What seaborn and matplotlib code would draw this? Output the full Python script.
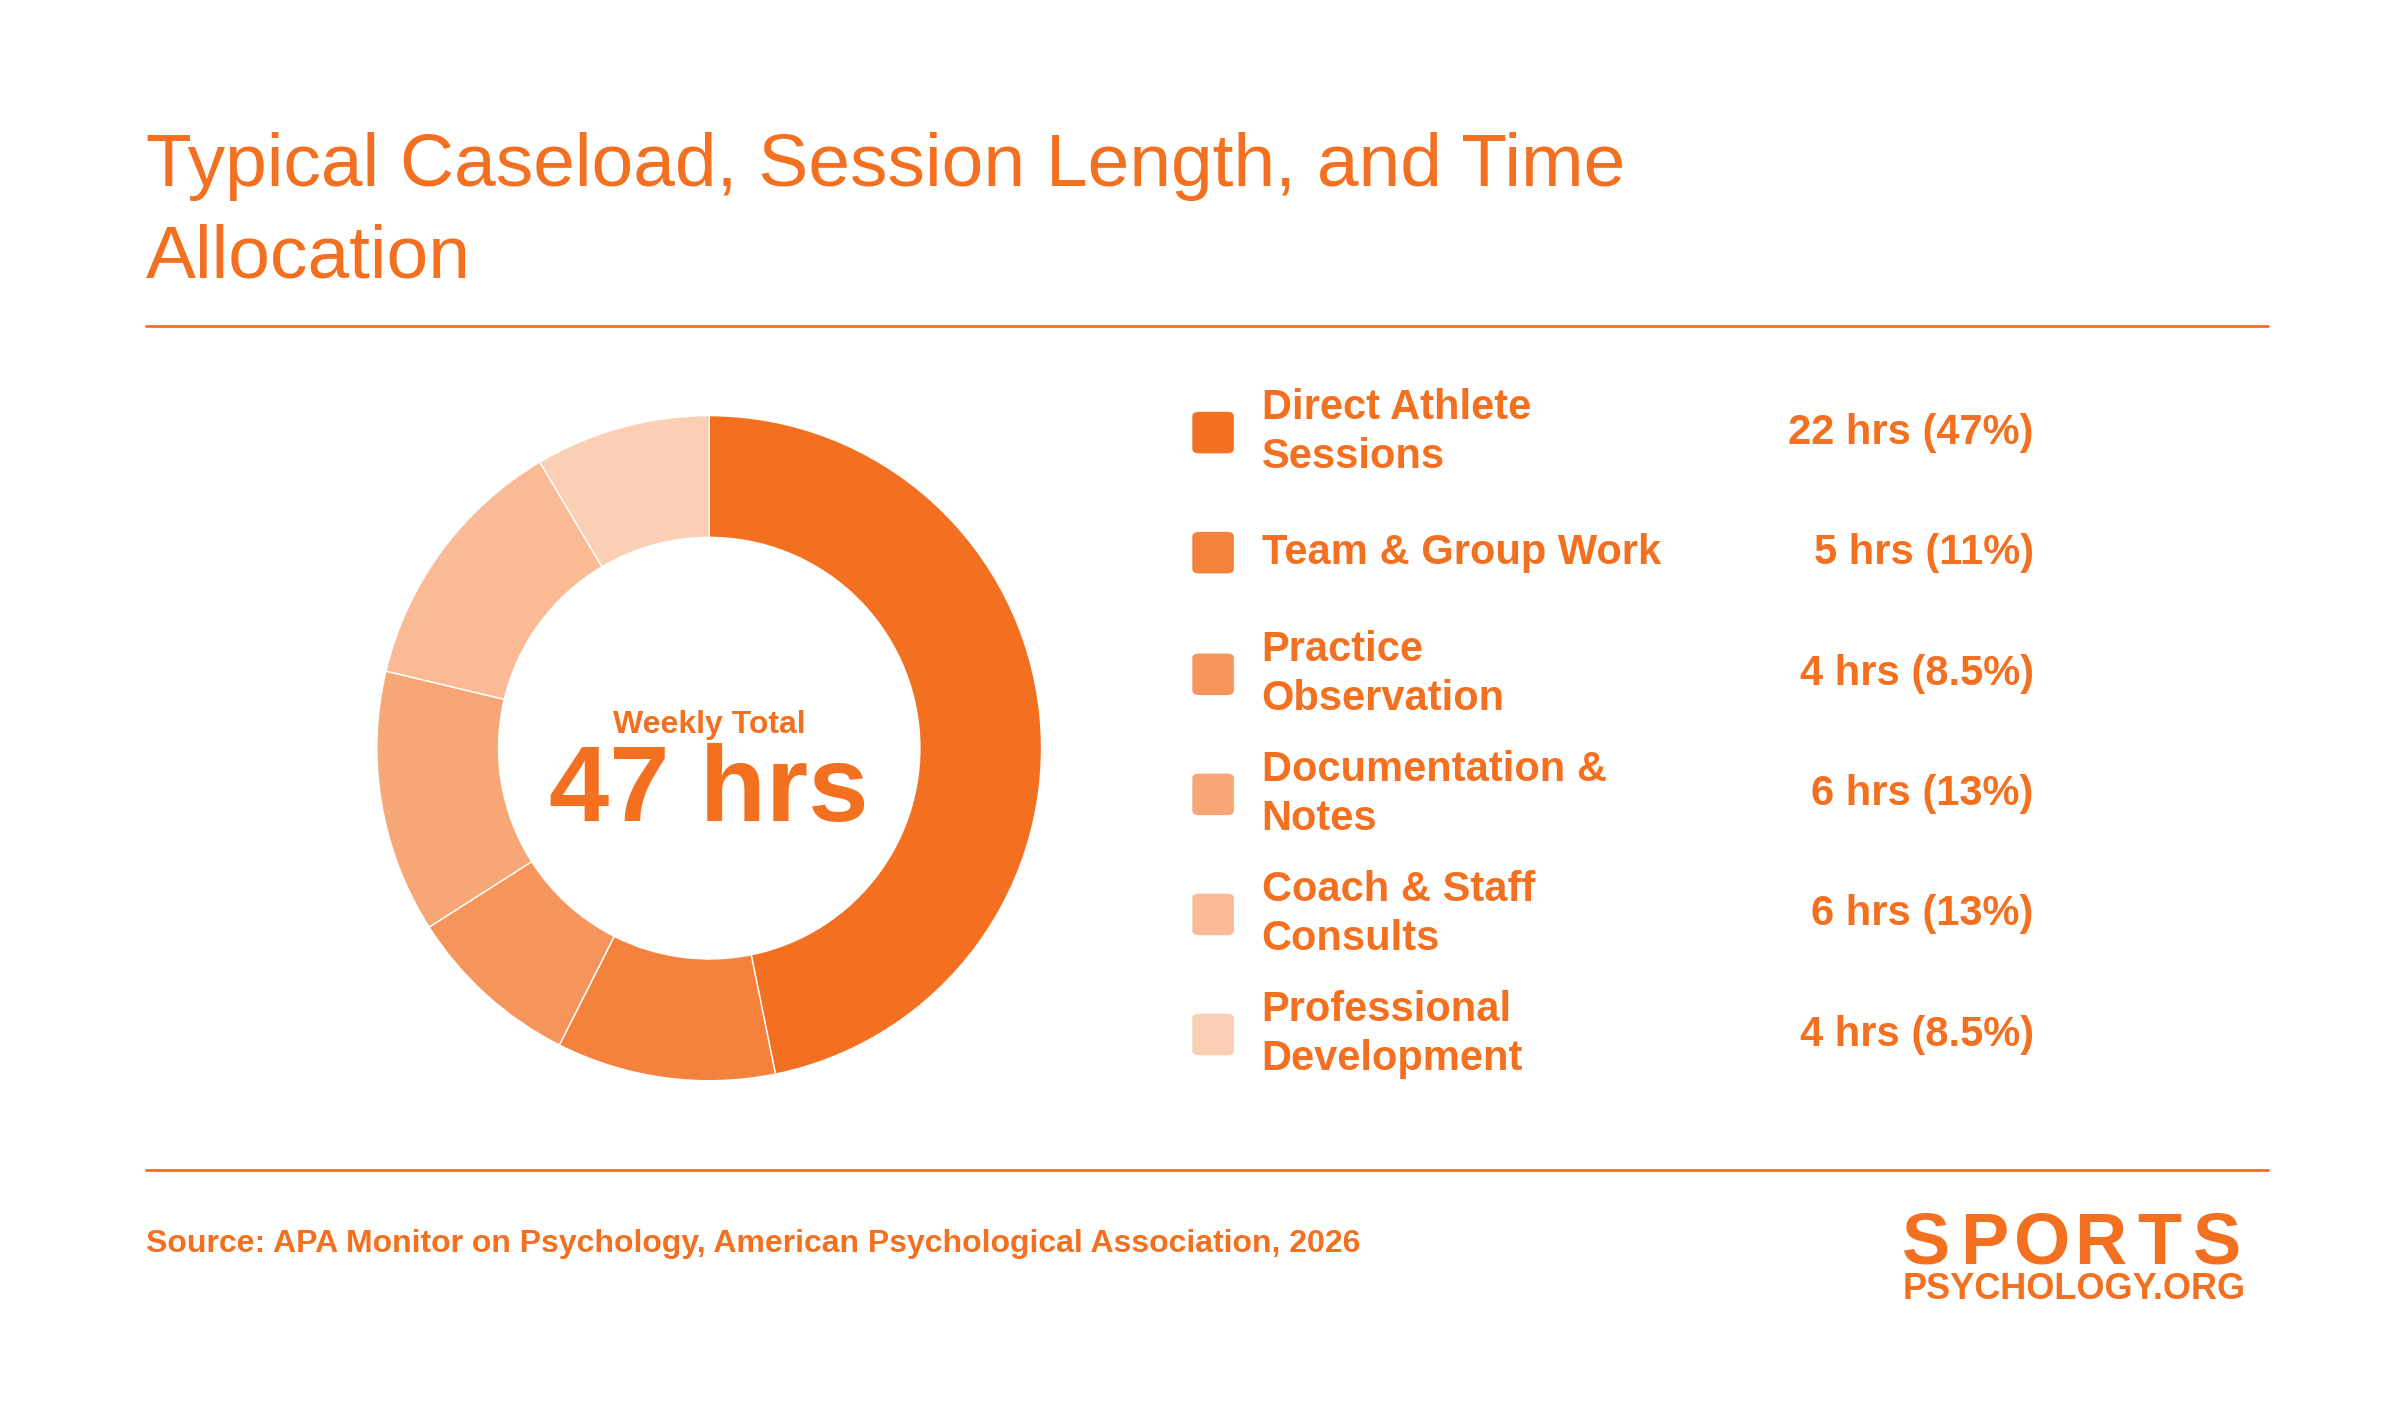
import matplotlib.pyplot as plt
import seaborn as sns
from matplotlib.patches import FancyBboxPatch
from matplotlib.lines import Line2D

sns.set_theme(style="white")
plt.rcParams["font.family"] = ["Liberation Sans", "DejaVu Sans"]

categories = ["Direct Athlete\nSessions", "Team & Group Work", "Practice\nObservation",
              "Documentation &\nNotes", "Coach & Staff\nConsults", "Professional\nDevelopment"]
hours = [22, 5, 4, 6, 6, 4]
value_labels = ["22 hrs (47%)", "5 hrs (11%)", "4 hrs (8.5%)", "6 hrs (13%)", "6 hrs (13%)", "4 hrs (8.5%)"]
colors = ["#F37021", "#F4823D", "#F5955C", "#F7A776", "#F9BA95", "#FBCFB4"]
ORANGE = "#F37021"

W, H = 1560, 912
fig = plt.figure(figsize=(24, 14.04), dpi=100)
fx = lambda x: x / W
fy = lambda y: 1 - y / H

fig.text(fx(95), fy(121), "Typical Caseload, Session Length, and Time", color=ORANGE, fontsize=54, va="baseline")
fig.text(fx(95), fy(180), "Allocation", color=ORANGE, fontsize=54, va="baseline")
for yy in (212, 760):
    fig.add_artist(Line2D([fx(95), fx(1474)], [fy(yy), fy(yy)], color=ORANGE, lw=2))

ax = fig.add_axes([fx(461 - 216), fy(486 + 216), 432 / W, 432 / H])
ax.pie(hours, colors=colors, startangle=90, counterclock=False, radius=1,
       wedgeprops=dict(width=0.366, edgecolor="white", linewidth=1))
ax.set_xlim(-1, 1)
ax.set_ylim(-1, 1)
ax.set_aspect("auto")
ax.axis("off")
fig.text(fx(461), fy(476), "Weekly Total", color=ORANGE, fontsize=23, fontweight="bold", ha="center", va="baseline")
fig.text(fx(461), fy(533), "47 hrs", color=ORANGE, fontsize=78, fontweight="bold", ha="center", va="baseline")

rows = [281, 359, 438, 516, 594, 672]
sq = 27
for cat, val, col, y in zip(categories, value_labels, colors, rows):
    fig.add_artist(FancyBboxPatch((fx(775), fy(y + sq / 2)), sq / W, sq / H,
                                  boxstyle="round,pad=0,rounding_size=0.003", facecolor=col, edgecolor="none",
                                  transform=fig.transFigure))
    fig.text(fx(820), fy(y), cat, color=ORANGE, fontsize=30, fontweight="bold", va="center", linespacing=1.3)
    fig.text(fx(1322), fy(y), val, color=ORANGE, fontsize=30, fontweight="bold", va="center", ha="right")

fig.text(fx(95), fy(813), "Source: APA Monitor on Psychology, American Psychological Association, 2026",
         color=ORANGE, fontsize=23, fontweight="bold", va="baseline")
for i, ch in enumerate("SPORTS"):
    fig.text(fx(1233 + 19 + 37.8 * i), fy(821), ch, color=ORANGE, fontsize=52, fontweight="bold",
             ha="center", va="baseline")
fig.text(fx(1460), fy(844), "PSYCHOLOGY.ORG", color=ORANGE, fontsize=26, fontweight="bold", ha="right", va="baseline")

fig.savefig("out.png", dpi=100, facecolor="white")
